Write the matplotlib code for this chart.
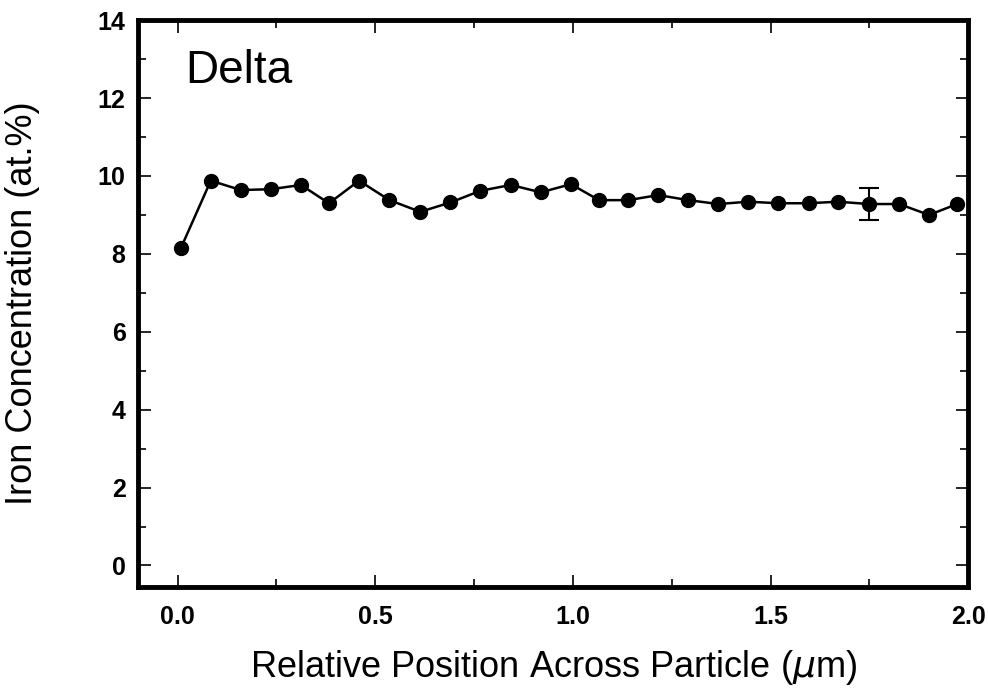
import matplotlib.pyplot as plt
from matplotlib.ticker import MultipleLocator

# Position across particle (um) and iron concentration (at.%)
position = [0.008, 0.084, 0.160, 0.236, 0.312, 0.383, 0.459, 0.536, 0.614,
            0.690, 0.766, 0.843, 0.919, 0.995, 1.066, 1.140, 1.216, 1.292,
            1.368, 1.444, 1.520, 1.596, 1.670, 1.749, 1.825, 1.901, 1.972]
iron = [8.14, 9.88, 9.64, 9.66, 9.77, 9.30, 9.88, 9.38, 9.08,
        9.32, 9.62, 9.77, 9.58, 9.79, 9.38, 9.38, 9.51, 9.38,
        9.28, 9.34, 9.30, 9.30, 9.34, 9.28, 9.28, 9.00, 9.28]

# single representative error bar
err_x = [1.749]
err_y = [9.28]
err_size = [0.42]

plt.rcParams['font.family'] = ['Liberation Sans', 'DejaVu Sans']

fig = plt.figure(figsize=(9.88, 6.97), dpi=100)
ax = fig.add_axes([0.1397, 0.158, 0.8403, 0.813])

ax.plot(position, iron, '-o', color='black', lw=1.8, markersize=10)
ax.errorbar(err_x, err_y, yerr=err_size, fmt='none', ecolor='black',
            elinewidth=1.5, capsize=7, capthick=1.5)

ax.set_xlim(-0.1, 2.0)
ax.set_ylim(-0.55, 14)
ax.xaxis.set_minor_locator(MultipleLocator(0.25))
ax.yaxis.set_major_locator(MultipleLocator(2))
ax.yaxis.set_minor_locator(MultipleLocator(1))
ax.set_xticks([0, 0.5, 1.0, 1.5, 2.0])
ax.set_xticklabels(['0.0', '0.5', '1.0', '1.5', '2.0'])

ax.tick_params(which='both', direction='in', top=True, right=True, width=1.2)
ax.tick_params(which='major', length=9)
ax.tick_params(which='minor', length=6)
ax.tick_params(axis='x', pad=13)
ax.tick_params(axis='y', pad=9)
for lab in ax.get_xticklabels() + ax.get_yticklabels():
    lab.set_fontsize(18)
    lab.set_fontweight('bold')

for sp in ax.spines.values():
    sp.set_linewidth(3.5)

ax.set_xlabel('Relative Position Across Particle ($\\mu$m)', fontsize=26, labelpad=14)
ax.set_ylabel('Iron Concentration (at.%)', fontsize=26)
ax.yaxis.set_label_coords(-0.118, 0.5)
ax.text(0.057, 0.89, 'Delta', transform=ax.transAxes, fontsize=33,
        va='baseline', ha='left')

fig.savefig('out.png', dpi=100)
